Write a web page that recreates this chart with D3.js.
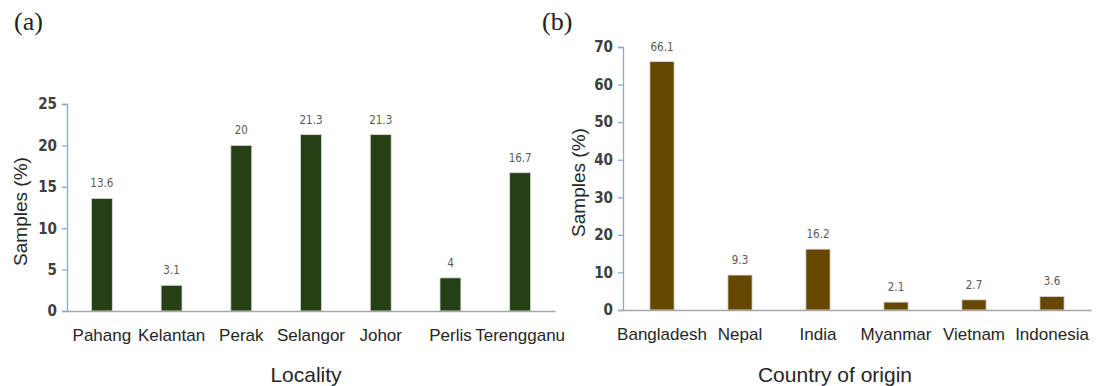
<!DOCTYPE html>
<html>
<head>
<meta charset="utf-8">
<script src="https://cdn.jsdelivr.net/npm/d3@7"></script>
<style>
  html, body { margin: 0; padding: 0; background: #fff; }
  svg { display: block; }
  .tick-lbl { font-family: "DejaVu Sans Condensed", "DejaVu Sans", sans-serif; font-stretch: condensed; font-weight: bold; font-size: 15px; fill: #404040; }
  .cat-lbl { font-family: "Liberation Sans", Arial, sans-serif; font-size: 17px; fill: #262626; }
  .val-lbl { font-family: "DejaVu Sans Condensed", "DejaVu Sans", sans-serif; font-stretch: condensed; font-size: 11.5px; fill: #595959; }
  .ax-title { font-family: "Liberation Sans", Arial, sans-serif; font-size: 21px; fill: #262626; }
  .y-title { font-family: "Liberation Sans", Arial, sans-serif; font-size: 19px; fill: #262626; }
  .panel { font-family: "Liberation Serif", "DejaVu Serif", serif; font-size: 26px; fill: #222; }
</style>
</head>
<body>
<svg id="chart" width="1097" height="386"></svg>
<script>
// Panel (a): sample share by locality
const localities = ["Pahang", "Kelantan", "Perak", "Selangor", "Johor", "Perlis", "Terengganu"];
const localityValues = [13.6, 3.1, 20, 21.3, 21.3, 4, 16.7];
const localityTicks = [0, 5, 10, 15, 20, 25];

// Panel (b): sample share by country of origin
const countries = ["Bangladesh", "Nepal", "India", "Myanmar", "Vietnam", "Indonesia"];
const countryValues = [66.1, 9.3, 16.2, 2.1, 2.7, 3.6];
const countryTicks = [0, 10, 20, 30, 40, 50, 60, 70];

const svg = d3.select("#chart");

function panel(opts) {
  const g = svg.append("g");
  const x = d3.scaleBand()
    .domain(opts.cats)
    .range([opts.x0, opts.x1])
    .paddingInner(opts.padIn)
    .paddingOuter(opts.padIn / 2);
  const y = d3.scaleLinear()
    .domain([0, opts.yMax])
    .range([opts.y0, opts.y1]);

  // y axis
  const yAxis = g.append("g")
    .attr("transform", `translate(${opts.x0},0)`)
    .call(d3.axisLeft(y).tickValues(opts.ticks).tickSize(5).tickPadding(5));
  yAxis.select(".domain").attr("stroke", "#8eaacb").attr("stroke-width", 1.3);
  yAxis.selectAll(".tick line").attr("stroke", "#8eaacb").attr("stroke-width", 1.3);
  yAxis.selectAll(".tick text").attr("class", "tick-lbl").attr("font-family", null).attr("font-size", null).attr("fill", null);

  // bars
  g.selectAll("rect.bar")
    .data(opts.vals)
    .join("rect")
    .attr("class", "bar")
    .attr("x", (d, i) => x(opts.cats[i]))
    .attr("width", x.bandwidth())
    .attr("y", d => y(d))
    .attr("height", d => y(0) - y(d))
    .attr("fill", opts.color)
    .attr("stroke", "#d9d9d9")
    .attr("stroke-width", 0.8);

  // x baseline
  const xAxis = g.append("g")
    .attr("transform", `translate(0,${opts.y0})`)
    .call(d3.axisBottom(x).tickSize(0).tickPadding(18));
  xAxis.select(".domain").attr("stroke", "#a6a6a6").attr("stroke-width", 1.3);
  xAxis.selectAll(".tick text").attr("class", "cat-lbl").attr("font-family", null).attr("font-size", null).attr("fill", null);

  // value labels
  g.selectAll("text.val-lbl")
    .data(opts.vals)
    .join("text")
    .attr("class", "val-lbl")
    .attr("x", (d, i) => x(opts.cats[i]) + x.bandwidth() / 2)
    .attr("y", d => y(d) - 11)
    .attr("text-anchor", "middle")
    .text(d => d);

  // axis titles
  g.append("text")
    .attr("class", "y-title")
    .attr("transform", `translate(${opts.yTitleX},${(opts.y0 + opts.y1) / 2 + 4}) rotate(-90)`)
    .attr("text-anchor", "middle")
    .attr("dy", "0.35em")
    .text("Samples (%)");
  g.append("text")
    .attr("class", "ax-title")
    .attr("x", opts.xTitleX)
    .attr("y", 382)
    .attr("text-anchor", "middle")
    .text(opts.xTitle);

  // panel letter
  g.append("text")
    .attr("class", "panel")
    .attr("x", opts.letterX)
    .attr("y", 30)
    .text(opts.letter);
}

panel({
  cats: localities, vals: localityValues, ticks: localityTicks, yMax: 25,
  x0: 67, x1: 555, y0: 311, y1: 104, padIn: 0.7,
  color: "#264016", yTitleX: 20, xTitleX: 306, xTitle: "Locality",
  letter: "(a)", letterX: 14
});

panel({
  cats: countries, vals: countryValues, ticks: countryTicks, yMax: 70,
  x0: 623, x1: 1091, y0: 310, y1: 47, padIn: 0.69,
  color: "#654700", yTitleX: 578, xTitleX: 835, xTitle: "Country of origin",
  letter: "(b)", letterX: 542
});
</script>
</body>
</html>
